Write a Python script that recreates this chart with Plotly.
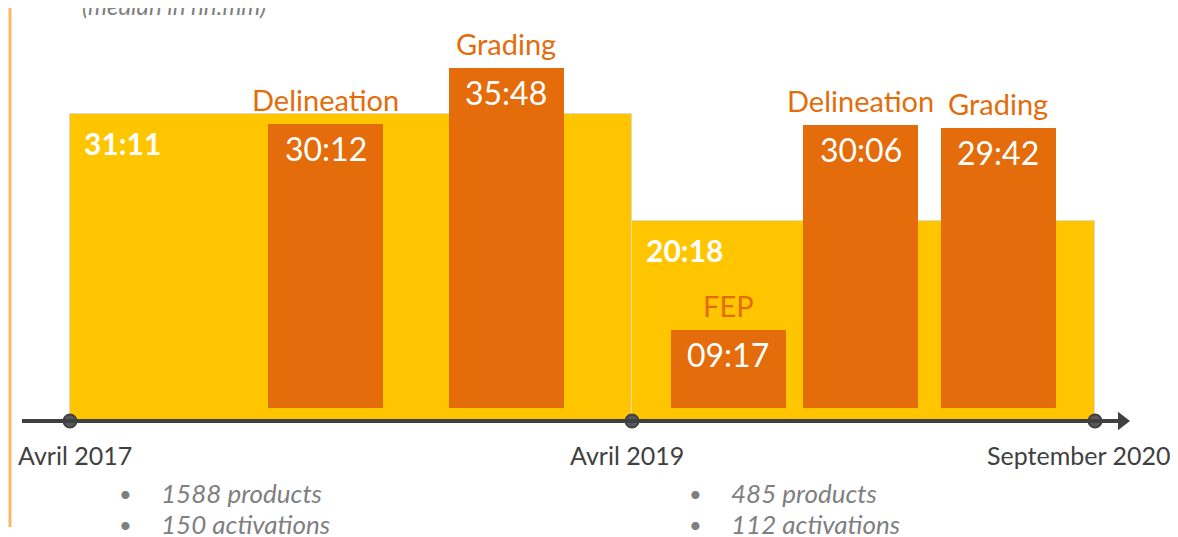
import plotly.graph_objects as go

# ---------------- data ----------------
milestones = ["Avril 2017", "Avril 2019", "September 2020"]
period_medians = ["31:11", "20:18"]
period_notes = [["1588 products", "150 activations"], ["485 products", "112 activations"]]
step_names = ["Delineation", "Grading", "FEP", "Delineation", "Grading"]
step_medians = ["30:12", "35:48", "09:17", "30:06", "29:42"]
subtitle = "(median in hh:mm)"

def hours(s):
    h, m = s.split(":")
    return int(h) + int(m) / 60

period_vals = [hours(s) for s in period_medians]
step_vals = [hours(s) for s in step_medians]

# ---------------- layout constants ----------------
PAGE_W, PAGE_H = 1178, 537
OFF = 8                # default body margin of the page
W, H = PAGE_W - OFF, PAGE_H - OFF
AXIS_PX = 421          # page pixel row of the timeline
PX_PER_H = 9.85        # vertical scale
milestone_x = [70, 632, 1095]
step_x = [325.5, 506, 728, 860.5, 998]
step_w = 115
bar_base = 13 / PX_PER_H
note_x = [160, 730]
bullet_x = [125, 695]

ORANGE = "#E46C0A"
YELLOW = "#FFC600"
DARK = "#404040"
GREY = "#7F7F7F"
FONT = "Lato"

y_top = (AXIS_PX - OFF) / PX_PER_H
y_bot = -(PAGE_H - AXIS_PX) / PX_PER_H

fig = go.Figure()

# period backgrounds
for i, v in enumerate(period_vals):
    x0, x1 = milestone_x[i], milestone_x[i + 1]
    fig.add_trace(go.Bar(x=[(x0 + x1) / 2], y=[v], width=[x1 - x0], base=0,
                         marker=dict(color=YELLOW, line=dict(color="#DDD8C8", width=1)),
                         showlegend=False, hoverinfo="skip"))

# step bars
fig.add_trace(go.Bar(x=step_x, y=[v - bar_base for v in step_vals], base=bar_base,
                     width=step_w, marker=dict(color=ORANGE, line=dict(width=0)),
                     showlegend=False, hoverinfo="skip"))

# timeline axis
fig.add_shape(type="line", x0=22, x1=1118, y0=0, y1=0, xref="x", yref="y",
              line=dict(color=DARK, width=4))
fig.add_trace(go.Scatter(x=[1122], y=[0], mode="markers",
                         marker=dict(symbol="triangle-right", size=16, color=DARK),
                         showlegend=False, hoverinfo="skip"))
fig.add_trace(go.Scatter(x=milestone_x, y=[0] * 3, mode="markers",
                         marker=dict(size=13, color="#595959", line=dict(color=DARK, width=2)),
                         showlegend=False, hoverinfo="skip"))

# left accent line
fig.add_shape(type="line", x0=10, x1=10, y0=-(527 - AXIS_PX) / PX_PER_H, y1=y_top,
              xref="x", yref="y", line=dict(color="#F8B96B", width=3))

ann = []
# period medians
for i, v in enumerate(period_vals):
    ann.append(dict(x=milestone_x[i] + 12, y=v, xref="x", yref="y", text=f"<b>{period_medians[i]}</b>",
                    showarrow=False, xanchor="left", yanchor="top", yshift=-9,
                    font=dict(family=FONT, size=30, color="white")))
# step labels
for x, v, name, lab in zip(step_x, step_vals, step_names, step_medians):
    ann.append(dict(x=x, y=v, xref="x", yref="y", text=lab, showarrow=False,
                    xanchor="center", yanchor="top", yshift=-3,
                    font=dict(family=FONT, size=32, color="white")))
    ann.append(dict(x=x, y=v, xref="x", yref="y", text=name, showarrow=False,
                    xanchor="center", yanchor="bottom", yshift=5,
                    font=dict(family=FONT, size=29, color=ORANGE)))
# milestone labels
ms_dx = [5, -5, -17]
for x, m, dx in zip(milestone_x, milestones, ms_dx):
    ann.append(dict(x=x, y=0, xref="x", yref="y", text=m, showarrow=False,
                    xanchor="center", yanchor="middle", yshift=-34, xshift=dx,
                    font=dict(family=FONT, size=25, color=DARK)))
# notes
for i, notes in enumerate(period_notes):
    for j, n in enumerate(notes):
        ys = -72 - 31 * j
        ann.append(dict(x=bullet_x[i], y=0, xref="x", yref="y", text="•", showarrow=False,
                        xanchor="center", yanchor="middle", yshift=ys, borderpad=0,
                        font=dict(family=FONT, size=22, color=GREY)))
        ann.append(dict(x=note_x[i], y=0, xref="x", yref="y", text=f"<i>{n}</i>", showarrow=False,
                        xanchor="left", yanchor="middle", yshift=ys, borderpad=0,
                        font=dict(family=FONT, size=26, color=GREY)))
# subtitle (cut off at top)
ann.append(dict(x=80, y=y_top, xref="x", yref="y", text=f"<i>{subtitle}</i>", showarrow=False,
                xanchor="left", yanchor="middle", yshift=3,
                font=dict(family=FONT, size=24, color=GREY)))

fig.update_layout(
    width=W, height=H, margin=dict(l=0, r=0, t=0, b=0),
    paper_bgcolor="white", plot_bgcolor="white",
    barmode="overlay", bargap=0,
    xaxis=dict(range=[OFF, PAGE_W], visible=False, fixedrange=True),
    yaxis=dict(range=[y_bot, y_top], visible=False, fixedrange=True),
    annotations=ann,
)

fig.write_html("out.html")
